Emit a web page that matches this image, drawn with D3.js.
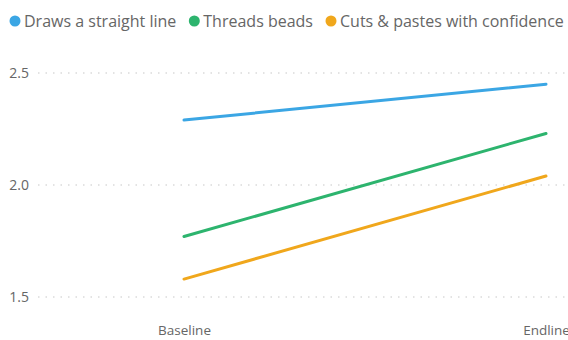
<!DOCTYPE html>
<html>
<head>
<meta charset="utf-8">
<script src="https://cdn.jsdelivr.net/npm/d3@7"></script>
<style>
  html, body { margin: 0; padding: 0; background: #fff; }
  svg { display: block; font-family: "Open Sans", "Noto Sans", sans-serif; }
</style>
</head>
<body>
<svg id="chart" width="568" height="340"></svg>
<script>
// Survey rounds along the x axis
const periods = ["Baseline", "Endline"];

// Skill names and their colours
const skills = ["Draws a straight line", "Threads beads", "Cuts & pastes with confidence"];
const colors = ["#3BA6E4", "#2DB46E", "#F0A71C"];

// Average score per skill, one value per period
const drawsLine = [2.29, 2.45];
const threadsBeads = [1.77, 2.23];
const cutsPastes = [1.58, 2.04];

// Y axis tick values
const yTicks = [1.5, 2.0, 2.5];

const seriesValues = [drawsLine, threadsBeads, cutsPastes];

const svg = d3.select("#chart");

const x = d3.scalePoint().domain(periods).range([184, 546]);
const y = d3.scaleLinear().domain([1.5, 2.5]).range([297, 73]);

// Dotted horizontal gridlines
svg.append("g")
  .selectAll("line")
  .data(yTicks)
  .join("line")
  .attr("x1", 38)
  .attr("x2", 568)
  .attr("y1", d => y(d))
  .attr("y2", d => y(d))
  .attr("stroke", "#c8c8c8")
  .attr("stroke-width", 1.2)
  .attr("stroke-dasharray", "1.5,6");

// Y axis labels
const yAxis = d3.axisLeft(y).tickValues(yTicks).tickFormat(d3.format(".1f")).tickSize(0).tickPadding(0);
const gy = svg.append("g").attr("transform", "translate(29,0)").call(yAxis);
gy.select(".domain").remove();
gy.selectAll("text")
  .attr("fill", "#666")
  .style("font-size", "14px")
  .style("font-family", "\"Open Sans\", sans-serif");

// X axis labels
const xAxis = d3.axisBottom(x).tickSize(0).tickPadding(0);
const gx = svg.append("g").attr("transform", "translate(0,325)").call(xAxis);
gx.select(".domain").remove();
gx.selectAll("text")
  .attr("fill", "#666")
  .style("font-size", "13.5px")
  .style("font-family", "\"Open Sans\", sans-serif");

// Series lines
const line = d3.line()
  .x((d, i) => x(periods[i]))
  .y(d => y(d));

svg.append("g")
  .selectAll("path")
  .data(seriesValues)
  .join("path")
  .attr("d", d => line(d))
  .attr("fill", "none")
  .attr("stroke", (d, i) => colors[i])
  .attr("stroke-width", 3)
  .attr("stroke-linecap", "round");

// Legend: dot, label, then a gap before the next item
const legend = svg.append("g").attr("transform", "translate(0,21)");
let cx = 15;
skills.forEach((name, i) => {
  const item = legend.append("g");
  item.append("circle")
    .attr("cx", cx)
    .attr("cy", 0)
    .attr("r", 5.5)
    .attr("fill", colors[i]);
  const t = item.append("text")
    .attr("x", cx + 9)
    .attr("y", 0)
    .attr("dy", "0.35em")
    .attr("fill", "#666")
    .style("font-size", "16px")
    .text(name);
  cx += 9 + t.node().getComputedTextLength() + 18;
});
</script>
</body>
</html>
